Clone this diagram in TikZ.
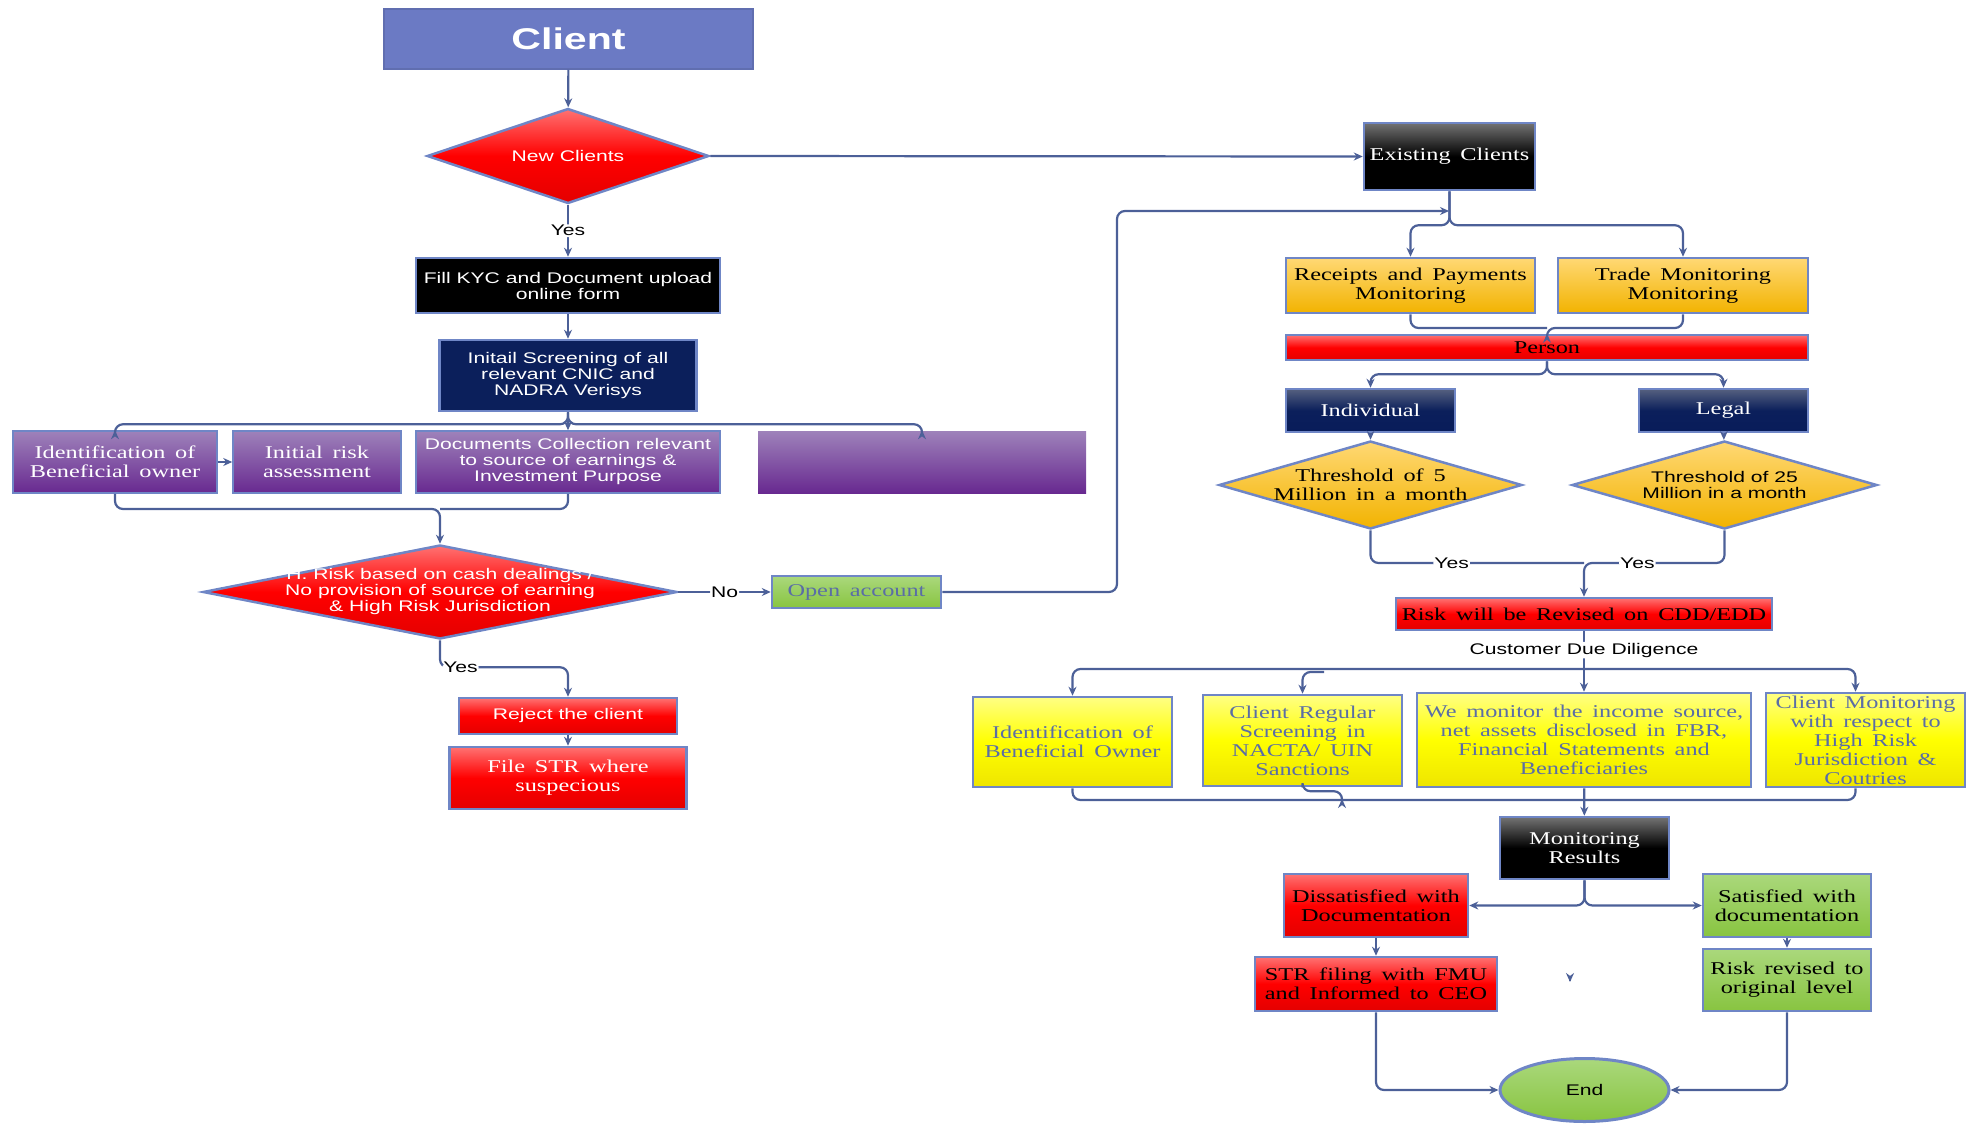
\documentclass[tikz,border=0pt]{standalone}
\usepackage{fontspec}
\setmainfont[FakeStretch=1.35,WordSpace=1.6]{Liberation Serif}
\newfontfamily\wsans[FakeStretch=1.37]{Liberation Sans}
\usetikzlibrary{ shapes.geometric, % For the diamonds and the end ellipse
                 arrows.meta,
               }
\newcommand{\serifsize}{\fontsize{18}{19}\selectfont}
\newcommand{\sanssize}{\wsans\fontsize{15.4}{16}\selectfont}

\definecolor{lineblue}{HTML}{4C6098}
\definecolor{edgeblue}{HTML}{6F86C6}
\definecolor{clientblue}{HTML}{6B7AC4}
\definecolor{redtop}{HTML}{FF7272}
\definecolor{redbot}{HTML}{E40000}
\definecolor{purptop}{HTML}{9E82BA}
\definecolor{purpbot}{HTML}{682990}
\definecolor{orangetop}{HTML}{FFD874}
\definecolor{orangebot}{HTML}{F2B300}
\definecolor{yellowtop}{HTML}{FFFF84}
\definecolor{yellowbot}{HTML}{EEE500}
\definecolor{greentop}{HTML}{AAD87C}
\definecolor{greenbot}{HTML}{88C440}
\definecolor{navytop}{HTML}{55607F}
\definecolor{navybot}{HTML}{081C5A}
\definecolor{navy}{HTML}{0B1F5B}
\definecolor{slate}{HTML}{5A6DA6}

\tikzstyle{box} = [rectangle, draw=edgeblue, line width=2.5pt, align=center, inner sep=1pt, font=\serifsize]
\tikzstyle{redbox} = [box, top color=redtop, bottom color=redbot, middle color=red]
\tikzstyle{purplebox} = [box, top color=purptop, bottom color=purpbot, text=white, line width=1.5pt]
\tikzstyle{orangebox} = [box, top color=orangetop, bottom color=orangebot]
\tikzstyle{yellowbox} = [box, top color=yellowtop, bottom color=yellowbot, middle color=yellow, text=slate]
\tikzstyle{greenbox} = [box, top color=greentop, bottom color=greenbot]
\tikzstyle{navybox} = [box, top color=navytop, bottom color=navybot, middle color=navy, text=white]
\tikzstyle{blackbox} = [box, top color=black!55, bottom color=black, middle color=black, text=white]
\tikzstyle{decision} = [diamond, draw=edgeblue, line width=2.5pt, inner sep=0pt]
\tikzstyle{sanslbl} = [font=\sanssize, align=center]
\tikzstyle{seriflbl} = [font=\serifsize, align=center]
\tikzstyle{conn} = [draw=lineblue, line width=2.2pt, rounded corners=8pt, -{Stealth[length=9pt,width=8pt]}]
\tikzstyle{link} = [draw=lineblue, line width=2.2pt, rounded corners=8pt]
\tikzstyle{tag} = [font=\sanssize, fill=white, inner sep=1pt, text=black]

\begin{document}
\begin{tikzpicture}[x=1pt, y=-1pt]
  \useasboundingbox (0,0) rectangle (1975,1124);

  % new clients
  \node (client) [rectangle, fill=clientblue, draw=clientblue!90!black, line width=1.5pt, minimum width=369pt, minimum height=60pt, text=white, font=\wsans\bfseries\fontsize{30}{32}\selectfont] at (568.5,39) {Client};
  \node (newc) [decision, top color=redtop, bottom color=redbot, middle color=red, minimum width=282pt, minimum height=95pt, label={[sanslbl, text=white]center:New Clients}] at (568,156) {};
  \node (kyc) [box, fill=black, text=white, font=\sanssize, minimum width=304pt, minimum height=55pt] at (568,285.5) {Fill KYC and Document upload\\online form};
  \node (screen) [box, fill=navy, text=white, font=\sanssize, minimum width=257pt, minimum height=71pt] at (568,375.5) {Initail Screening of all\\relevant CNIC and\\NADRA Verisys};

  \node (idb) [purplebox, minimum width=204pt, minimum height=62pt] at (115,462) {Identification of\\Beneficial owner};
  \node (irisk) [purplebox, minimum width=168pt, minimum height=62pt] at (317,462) {Initial risk\\assessment};
  \node (docs) [purplebox, font=\sanssize, minimum width=304pt, minimum height=62pt] at (568,462) {Documents Collection relevant\\to source of earnings \&\\Investment Purpose};
  \node (empty) [purplebox, draw=none, minimum width=328pt, minimum height=62pt] at (922,462) {};

  \node (hrisk) [decision, top color=redtop, bottom color=redbot, middle color=red, minimum width=474pt, minimum height=94pt, label={[sanslbl, text=white]center:H. Risk based on cash dealings /\\No provision of source of earning\\\& High Risk Jurisdiction}] at (440,592) {};
  \node (open) [greenbox, text=slate, minimum width=169pt, minimum height=32pt] at (856.5,592) {Open account};
  \node (reject) [redbox, text=white, font=\sanssize, minimum width=218pt, minimum height=36pt] at (568,716) {Reject the client};
  \node (filestr) [redbox, text=white, minimum width=237pt, minimum height=62pt] at (568,778) {File STR where\\suspecious};

  % existing clients
  \node (exist) [blackbox, minimum width=171pt, minimum height=67pt] at (1449.5,156.5) {Existing Clients};
  \node (rpm) [orangebox, minimum width=249pt, minimum height=55pt] at (1410.5,285.5) {Receipts and Payments\\Monitoring};
  \node (trade) [orangebox, minimum width=250pt, minimum height=55pt] at (1683,285.5) {Trade Monitoring\\Monitoring};
  \node (person) [redbox, inner sep=0pt, minimum width=522pt, minimum height=25pt] at (1547,347.5) {Person};
  \node (indiv) [navybox, minimum width=169pt, minimum height=43pt] at (1370.5,410.5) {Individual};
  \node (legal) [navybox, minimum width=169pt, minimum height=43pt] at (1723.5,410.5) {Legal};
  \node (th5) [decision, top color=orangetop, bottom color=orangebot, minimum width=303pt, minimum height=88pt, label={[seriflbl]center:Threshold of 5\\Million in a month}] at (1370.5,485) {};
  \node (th25) [decision, top color=orangetop, bottom color=orangebot, minimum width=305pt, minimum height=88pt, label={[sanslbl]center:Threshold of 25\\Million in a month}] at (1724.5,485) {};
  \node (risk) [redbox, minimum width=376pt, minimum height=32pt] at (1584,614) {Risk will be Revised on CDD/EDD};

  \node (idb2) [yellowbox, minimum width=199pt, minimum height=90pt] at (1072.5,742) {Identification of\\Beneficial Owner};
  \node (crs) [yellowbox, minimum width=199pt, minimum height=91pt] at (1302.5,740.5) {Client Regular\\Screening in\\NACTA/ UIN\\Sanctions};
  \node (mon) [yellowbox, minimum width=334pt, minimum height=94pt] at (1584,740) {We monitor the income source,\\net assets disclosed in FBR,\\Financial Statements and\\Beneficiaries};
  \node (cmon) [yellowbox, minimum width=199pt, minimum height=94pt] at (1865.5,740) {Client Monitoring\\with respect to\\High Risk\\Jurisdiction \&\\Coutries};

  \node (monres) [blackbox, minimum width=169pt, minimum height=62pt] at (1584.5,848) {Monitoring\\Results};
  \node (dis) [redbox, minimum width=184pt, minimum height=63pt] at (1376,905.5) {Dissatisfied with\\Documentation};
  \node (strf) [redbox, minimum width=242pt, minimum height=54pt] at (1376,984) {STR filing with FMU\\and Informed to CEO};
  \node (sat) [greenbox, minimum width=168pt, minimum height=63pt] at (1787,905.5) {Satisfied with\\documentation};
  \node (rrev) [greenbox, minimum width=168pt, minimum height=62pt] at (1787,980) {Risk revised to\\original level};
  \node (endn) [ellipse, draw=edgeblue, line width=3pt, top color=greentop, bottom color=greenbot, minimum width=169pt, minimum height=63pt, font=\sanssize] at (1584.5,1090) {End};

  % junctions
  \coordinate (m1) at (440,509);
  \coordinate (loopUp) at (1117,211);
  \coordinate (exJoin) at (1449,211);
  \coordinate (pm) at (1547,328);
  \coordinate (rj) at (1584,563);
  \coordinate (cddj) at (1584,669);
  \coordinate (crsStub) at (1324,672);
  \coordinate (crsEnd) at (1342,799);
  \coordinate (cj) at (1584,800);
  \coordinate (stray) at (1570,982);

  \draw [conn] (client) -- (newc);
  \draw [conn] (newc.east) -- (exist.west);
  \draw [conn] (newc) -- node [tag] {Yes} (kyc);
  \draw [conn] (kyc) -- (screen);
  \draw [conn] (screen.south) -- ++(0,12) -| (idb.north);
  \draw [conn] (screen.south) -- ++(0,12) -| (empty.north);
  \draw [conn] (screen) -- (docs);
  \draw [conn] (idb) -- (irisk);
  \draw [link] (docs.south) |- (m1);
  \draw [conn] (idb.south) |- (m1) -- (hrisk.north);
  \draw [conn] (hrisk) -- node [tag] {No} (open);
  \draw [conn] (hrisk.south) -- ++(0,27) -| node [tag, pos=0.08] {Yes} (reject.north);
  \draw [conn] (reject) -- (filestr);
  \draw [conn] (open.east) -| (loopUp) -- (exJoin);

  \draw [conn] (exist.south) -- ++(0,34) -| (rpm.north);
  \draw [conn] (exist.south) -- ++(0,34) -| (trade.north);
  \draw [link] (rpm.south) |- (pm);
  \draw [conn] (trade.south) |- (pm) -- (person.north);
  \draw [conn] (person.south) -- ++(0,13) -| (indiv.north);
  \draw [conn] (person.south) -- ++(0,13) -| (legal.north);
  \draw [conn] (indiv) -- (th5);
  \draw [conn] (legal) -- (th25);
  \draw [link] (th5.south) |- node [tag, pos=0.69] {Yes} (rj);
  \draw [conn] (th25.south) |- node [tag, pos=0.81] {Yes} (rj) -- (risk.north);
  \draw [link] (risk) -- node [tag] {Customer Due Diligence} (cddj);
  \draw [conn] (cddj) -| (idb2.north);
  \draw [conn] (cddj) -| ([xshift=-10pt]cmon.north);
  \draw [conn] (cddj) -- (mon.north);
  \draw [conn] (crsStub) -| (crs.north);
  \draw [conn] (crs.south) -- ++(0,4) -| (crsEnd);
  \draw [link] (idb2.south) |- (cj);
  \draw [link] ([xshift=-10pt]cmon.south) |- (cj);
  \draw [conn] (mon) -- (monres);
  \draw [conn] (monres.south) |- (dis.east);
  \draw [conn] (monres.south) |- (sat.west);
  \draw [conn] (dis) -- (strf);
  \draw [conn] (sat) -- (rrev);
  \draw [conn] (strf.south) |- (endn.west);
  \draw [conn] (rrev.south) |- (endn.east);
  \draw [conn] ([yshift=1pt]stray) -- (stray);
\end{tikzpicture}
\end{document}
